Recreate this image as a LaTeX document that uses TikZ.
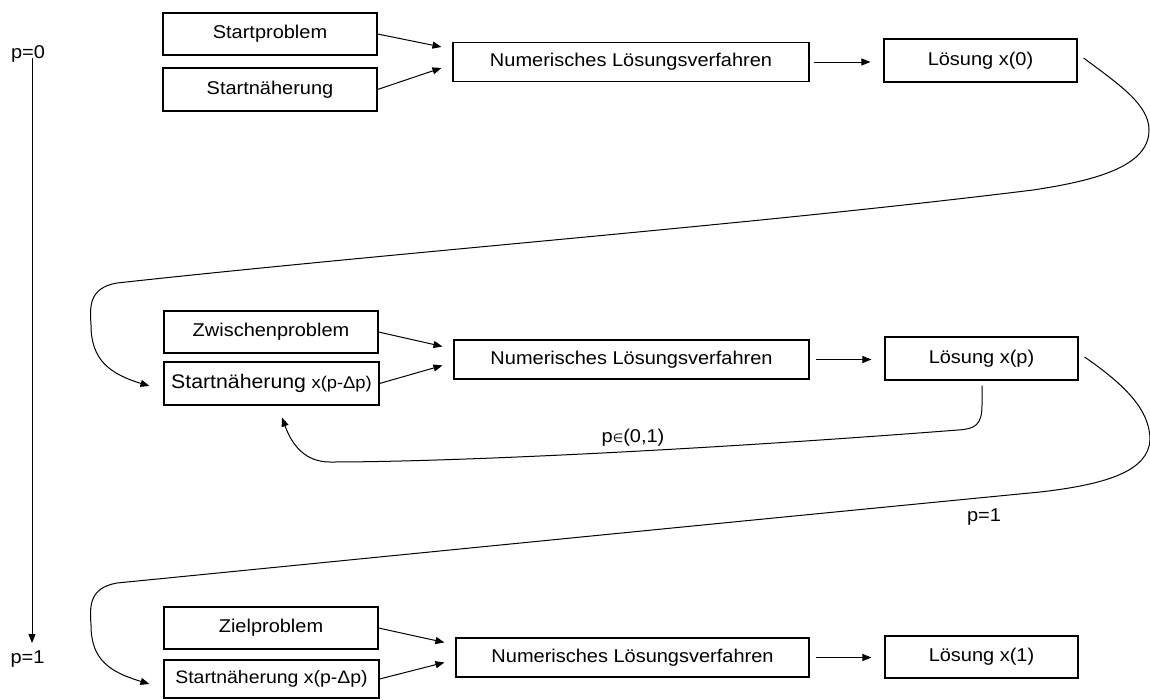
\documentclass[tikz,border=0pt]{standalone}
\usepackage{fontspec}
\setmainfont{Liberation Sans}[FakeStretch=1.08]
\newfontfamily\dejavu{DejaVu Sans}
\usetikzlibrary{arrows.meta,calc}
\begin{document}
\begin{tikzpicture}[x=1pt,y=-1pt,
  box/.style={draw,line width=1.1pt,rectangle,inner sep=0pt,anchor=center},
  leftbox/.style={box,minimum width=214pt,minimum height=42pt},
  numbox/.style={box,minimum width=355pt,minimum height=39pt},
  solbox/.style={box,minimum width=193pt,minimum height=43pt},
  arr/.style={line width=1pt,-{Triangle[length=9pt,width=7pt]}},
  curve/.style={line width=1pt},
  lab/.style={inner sep=0pt,anchor=base},
  font=\fontsize{18.5}{22}\selectfont]
\useasboundingbox (0,0) rectangle (1150,699);

% left axis
\node[lab] (p0) at (28,58) {p=0};
\node[lab] (p1) at (27.5,663) {p=1};
\coordinate (ax0) at (32,58);
\coordinate (ax1) at (32,643);
\draw[arr] (ax0) -- (ax1);

% row 1
\node[leftbox] (sp1) at (270,34) {Startproblem};
\node[leftbox,minimum height=43pt] (sn1) at (270,89.5) {Startnäherung};
\node[numbox,minimum width=356pt] (nl1) at (631,62) {Numerisches Lösungsverfahren};
\node[solbox] (l1) at (980.5,60.5) {Lösung x(0)};
\draw[arr] (sp1.east) -- ($(nl1.north west)+(-11,5)$);
\draw[arr] (sn1.east) -- ($(nl1.north west)+(-11,26)$);
\draw[arr,shorten <=4pt,shorten >=13pt] (nl1.east) -- (nl1.east -| l1.west);

% row 2
\node[leftbox] (zp) at (271,332) {Zwischenproblem};
\node[leftbox,minimum width=215pt,minimum height=43pt] (sn2) at (271.5,383.5)
  {{\fontsize{19.7}{22}\selectfont Startnäherung} {\fontsize{17}{20}\selectfont x(p-Δp)}};
\node[numbox] (nl2) at (631.5,359.5) {Numerisches Lösungsverfahren};
\node[solbox] (l2) at (981.5,358.5) {Lösung x(p)};
\draw[arr] (zp.east) -- ($(nl2.north west)+(-11,7)$);
\draw[arr] (sn2.east) -- ($(nl2.north west)+(-11,26)$);
\draw[arr,shorten <=6pt,shorten >=13pt] (nl2.east) -- (nl2.east -| l2.west);

% row 3
\node[leftbox] (zl) at (271,628) {Zielproblem};
\node[leftbox,minimum width=215pt,minimum height=38pt,font=\fontsize{18}{20}\selectfont] (sn3) at (271.5,679) {Startnäherung x(p-Δp)};
\node[numbox,minimum width=353pt] (nl3) at (632.5,657.5) {Numerisches Lösungsverfahren};
\node[solbox,minimum height=42pt] (l3) at (981.5,657) {Lösung x(1)};
\draw[arr] (zl.east) -- ($(nl3.north west)+(-11,5)$);
\draw[arr] (sn3.east) -- ($(nl3.north west)+(-11,25)$);
\draw[arr,shorten <=6pt,shorten >=13pt] (nl3.east) -- (nl3.east -| l3.west);

% curve from x(0) to row 2
\draw[arr] ($(l1.east)+(6,-2.5)$) .. controls (1120,85) and (1149,105) .. (1149,130)
  .. controls (1149,165) and (1100,180) .. (1033,190)
  .. controls (750,225) and (400,252) .. (117,283)
  .. controls (88,288) and (90,308) .. (91,325)
  .. controls (91,360) and (110,374) .. ($(sn2.west)+(-14,2.5)$);

% curve from x(p) to row 3
\draw[arr] ($(l2.east)+(6,-1.5)$) .. controls (1125,385) and (1150,410) .. (1150,440)
  .. controls (1148,470) and (1110,484) .. (1040,492)
  .. controls (700,525) and (400,555) .. (117,583)
  .. controls (88,588) and (90,608) .. (91,625)
  .. controls (91,660) and (110,672) .. ($(sn3.west)+(-14,5)$);
\node[lab] (lp1) at (984,521) {p=1};

% return loop
\draw[arr] ($(l2.south)+(0.5,5)$) -- (982,405)
  .. controls (982,425) and (975,429) .. (958,430)
  .. controls (700,450) and (450,462) .. (330,462)
  .. controls (305,462) and (292,445) .. ($(sn2.south)+(10.5,12)$);
\node[lab] (lpin) at (633,442) {p{\dejavu\fontsize{12}{12}\selectfont ∈}(0,1)};
\end{tikzpicture}
\end{document}
